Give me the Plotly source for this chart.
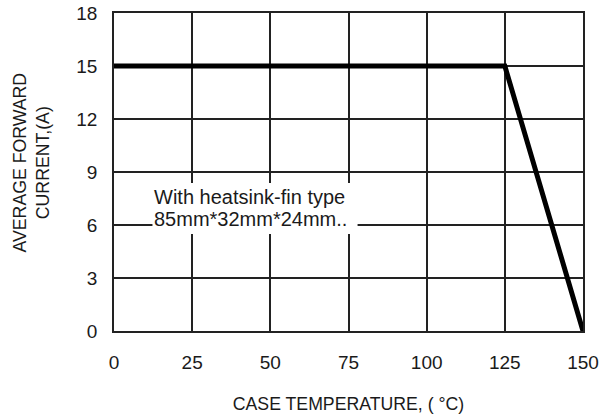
import plotly.graph_objects as go

# data
case_temp = [0, 125, 150]
avg_current = [15, 15, 0]
x_ticks = [0, 25, 50, 75, 100, 125, 150]
y_ticks = [0, 3, 6, 9, 12, 15, 18]
note_lines = ["With heatsink-fin type", "85mm*32mm*24mm.."]

FONT = "Arial, Liberation Sans, sans-serif"
GRID = "#222222"
TXT = "#1a1a1a"

fig = go.Figure()
fig.add_trace(go.Scatter(
    x=case_temp, y=avg_current, mode="lines",
    line=dict(color="#000000", width=5),
    cliponaxis=False, showlegend=False, hoverinfo="skip",
))

axis_common = dict(
    showgrid=True, gridcolor=GRID, gridwidth=1.5,
    showline=True, linecolor=GRID, linewidth=1.5, mirror=True,
    zeroline=False, ticks="", automargin=False,
    tickfont=dict(family=FONT, size=19, color=TXT),
)

fig.update_xaxes(
    range=[0, 150], tickvals=x_ticks, ticktext=[str(v) for v in x_ticks],
    ticklabelstandoff=13,
    title=dict(text="CASE TEMPERATURE, ( °C)", font=dict(family=FONT, size=17.7, color=TXT), standoff=26),
    **axis_common,
)
fig.update_yaxes(
    range=[0, 18], tickvals=y_ticks, ticktext=[str(v) for v in y_ticks],
    ticklabelstandoff=11,
    **axis_common,
)

# white background box behind the note
fig.add_shape(type="rect", xref="x", yref="y", x0=12.3, x1=77.9, y0=5.49, y1=8.38,
              fillcolor="white", line=dict(width=0), layer="above")

for i, line in enumerate(note_lines):
    fig.add_annotation(
        x=12.0, y=7.6, xref="x", yref="y", xanchor="left", yanchor="middle",
        yshift=-22 * i, text=line, showarrow=False, align="left",
        font=dict(family=FONT, size=20, color=TXT),
    )

fig.add_annotation(
    x=0, y=0.53, xref="paper", yref="paper", xshift=-83,
    text="AVERAGE FORWARD<br>CURRENT,(A)", textangle=-90, showarrow=False,
    xanchor="center", yanchor="middle",
    font=dict(family=FONT, size=17.7, color=TXT),
)

fig.update_layout(
    width=600, height=420,
    margin=dict(l=114, r=17, t=13, b=89),
    paper_bgcolor="white", plot_bgcolor="white",
    font=dict(family=FONT, color=TXT),
)

fig.write_html("out.html", config={"displayModeBar": False},
               post_script="document.body.style.margin='0';")
